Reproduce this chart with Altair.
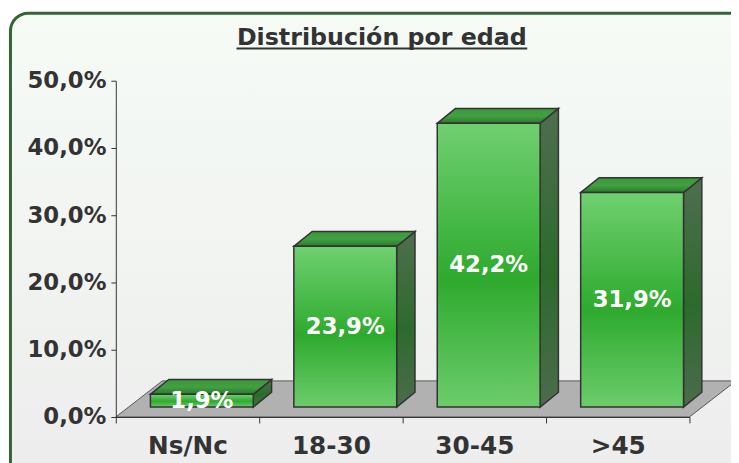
import json
import altair as alt
import pandas as pd

# ---- data ----
categories = ["Ns/Nc", "18-30", "30-45", ">45"]
values = [1.9, 23.9, 42.2, 31.9]
y_ticks = [0, 10, 20, 30, 40, 50]
title_text = "Distribución por edad"

# ---- layout (pixels) ----
W, H = 580, 340                 # plot area
PAD_L, PAD_T = 109, 71
PAD_R, PAD_B = 42, 44
UX = W / len(categories)        # px per category unit
UY = H / 50.0                   # px per percent
SHIFT_X, SHIFT_Y = 14.5, 10.0   # bar front set back from floor front
DEPTH_X, DEPTH_Y = 18.5, 15.0   # bar depth
BAR_W = 104.0
FLOOR_DX, FLOOR_DY = 47.0, 36.5

FONT = "DejaVu Sans"
TXT = "#333333"
EDGE = "#333333"

rows = []
for i, (c, v) in enumerate(zip(categories, values)):
    cx = i + 0.5 + SHIFT_X / UX
    xl = cx - BAR_W / 2 / UX
    xr = cx + BAR_W / 2 / UX
    yb = SHIFT_Y / UY
    yt = v + SHIFT_Y / UY
    rows.append(dict(cat=c, val=v, cx=cx, xl=xl, xr=xr, yb=yb, yt=yt,
                     ym=(yb + yt) / 2,
                     label=f"{v:.1f}".replace(".", ",") + "%"))
bars = pd.DataFrame(rows)

side_rows, top_rows = [], []
for r in rows:
    ddx, ddy = DEPTH_X / UX, DEPTH_Y / UY
    side_rows.append(dict(cat=r["cat"], x=r["xr"], y=r["yt"], y2=r["yb"]))
    side_rows.append(dict(cat=r["cat"], x=r["xr"] + ddx, y=r["yt"] + ddy, y2=r["yb"] + ddy))
    top_rows.append(dict(cat=r["cat"], y=r["yt"], x=r["xl"], x2=r["xr"]))
    top_rows.append(dict(cat=r["cat"], y=r["yt"] + ddy, x=r["xl"] + ddx, x2=r["xr"] + ddx))
side = pd.DataFrame(side_rows)
top = pd.DataFrame(top_rows)

n = len(categories)
floor = pd.DataFrame([
    dict(y=0.0, x=0.0, x2=float(n)),
    dict(y=FLOOR_DY / UY, x=FLOOR_DX / UX, x2=n + FLOOR_DX / UX),
])

xscale = alt.Scale(domain=[0, n], nice=False, zero=False)
yscale = alt.Scale(domain=[0, 50], nice=False)

label_expr = json.dumps(categories + [""]) + "[datum.value]"
x_axis = alt.Axis(values=list(range(n + 1)), labelExpr=label_expr,
                  labelOffset=UX / 2, labelAlign="center",
                  labelFont=FONT, labelFontWeight="bold", labelFontSize=25,
                  labelColor=TXT, labelPadding=11, labelBound=False,
                  labelOverlap=False, labelFlush=False,
                  tickSize=6, tickColor=EDGE, domainColor=EDGE,
                  domainWidth=1, grid=False, zindex=1, title=None)
y_axis = alt.Axis(values=y_ticks,
                  labelExpr="replace(format(datum.value, '.1f'), '.', ',') + '%'",
                  labelFont=FONT, labelFontWeight="bold", labelFontSize=23,
                  labelColor=TXT, labelPadding=5, tickSize=5,
                  tickColor=EDGE, domainColor=EDGE, domainWidth=1,
                  grid=False, zindex=1, title=None)


def X(field):
    return alt.X(field, scale=xscale, axis=x_axis, title=None)


def Y(field):
    return alt.Y(field, scale=yscale, axis=y_axis, title=None)


def vgrad(stops):
    return alt.Gradient(gradient="linear", x1=0, x2=0, y1=0, y2=1,
                        stops=[alt.GradientStop(color=c, offset=o) for o, c in stops])


one = pd.DataFrame({"k": [0]})

# frame
frame = alt.Chart(one).mark_rect(
    cornerRadius=18, stroke="#336633", strokeWidth=3,
    fill=vgrad([(0, "#f6fbf6"), (1, "#ebebeb")])
).encode(
    x=alt.value(10.5 - 8 - PAD_L), x2=alt.value(W + 80),
    y=alt.value(10.7 - 8 - PAD_T), y2=alt.value(H + 120),
)

floor_layer = alt.Chart(floor).mark_area(
    orient="horizontal", fill="#b1b1b1", stroke="#555555", strokeWidth=1
).encode(
    y=Y("y:Q"),
    x=X("x:Q"),
    x2="x2:Q",
)

side_layer = alt.Chart(side).mark_area(
    orient="vertical", stroke=EDGE, strokeWidth=1.5,
    fill=vgrad([(0, "#4f6e4f"), (0.55, "#2c6b2c"), (1, "#4c6b4c")])
).encode(
    x=X("x:Q"),
    y=Y("y:Q"),
    y2="y2:Q",
    detail="cat:N",
)

top_layer = alt.Chart(top).mark_area(
    orient="horizontal", stroke=EDGE, strokeWidth=1.5,
    fill=vgrad([(0, "#3a983a"), (0.5, "#42a042"), (1, "#2b7a2b")])
).encode(
    y=Y("y:Q"),
    x=X("x:Q"),
    x2="x2:Q",
    detail="cat:N",
)

front_layer = alt.Chart(bars).mark_rect(
    stroke=EDGE, strokeWidth=1.5,
    fill=vgrad([(0, "#70d070"), (0.55, "#2eaa2e"), (1, "#6ccc6c")])
).encode(
    x=X("xl:Q"),
    x2="xr:Q",
    y=Y("yb:Q"),
    y2="yt:Q",
)

labels = alt.Chart(bars).mark_text(
    font=FONT, fontWeight="bold", fontSize=23, color="white",
    align="center", baseline="middle"
).encode(
    x=X("cx:Q"),
    y=Y("ym:Q"),
    text="label:N",
)

title_cx = 386 - 8 - PAD_L
title = alt.Chart(one).mark_text(
    font=FONT, fontWeight="bold", fontSize=24, color=TXT,
    align="center", baseline="alphabetic"
).encode(
    x=alt.value(title_cx), y=alt.value(42.7 - 8 - PAD_T),
    text=alt.value(title_text),
)
underline = alt.Chart(one).mark_rule(color=TXT, strokeWidth=2).encode(
    x=alt.value(title_cx - 147), x2=alt.value(title_cx + 147),
    y=alt.value(46.5 - 8 - PAD_T),
)

chart = alt.layer(
    frame, floor_layer, side_layer, top_layer, front_layer, labels, title, underline
).properties(
    width=W, height=H,
    autosize=alt.AutoSizeParams(type="none"),
    padding={"left": PAD_L, "top": PAD_T, "right": PAD_R, "bottom": PAD_B},
    background="white",
).configure_view(stroke=None)

chart.save("out.html", embed_options={"renderer": "svg", "actions": False})
